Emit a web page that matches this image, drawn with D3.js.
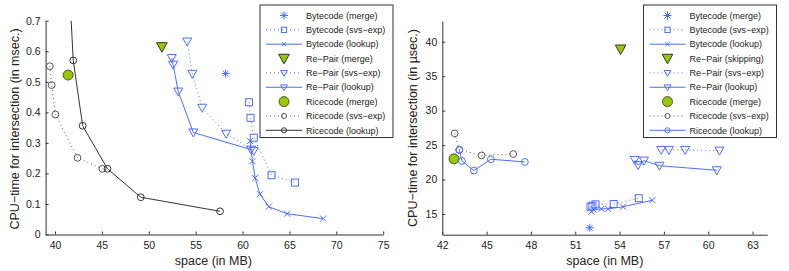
<!DOCTYPE html>
<html>
<head>
<meta charset="utf-8">
<script src="https://cdn.jsdelivr.net/npm/d3@7"></script>
<style>
  body { margin: 0; background: #fff; }
  svg { display: block; font-family: "Liberation Sans", Arial, sans-serif; }
  .tick text { font-size: 10.5px; fill: #222; }
  .domain, .tick line { stroke: #333; }
</style>
</head>
<body>
<div id="chart"></div>
<script>
// ---- data ----
// left panel: space (MB) vs time (msec.)
const leftXTicks = [40, 45, 50, 55, 60, 65, 70, 75];
const leftYTicks = [0, 0.1, 0.2, 0.3, 0.4, 0.5, 0.6, 0.7];
const leftBytecodeMerge = [[58.2, 0.527]];
const leftBytecodeSvs = [[60.7, 0.433], [60.85, 0.382], [61.2, 0.317], [63.1, 0.194], [65.6, 0.170]];
const leftBytecodeLookup = [[60.8, 0.306], [61.05, 0.240], [61.35, 0.185], [61.85, 0.132], [62.8, 0.091], [64.75, 0.068], [68.6, 0.052]];
const leftRepairMerge = [[51.4, 0.614]];
const leftRepairSvs = [[54.1, 0.632], [54.65, 0.526], [55.7, 0.415], [58.25, 0.330], [61.2, 0.274]];
const leftRepairLookup = [[52.45, 0.578], [52.6, 0.556], [53.15, 0.468], [54.75, 0.334], [60.9, 0.278]];
const leftRiceMerge = [[41.4, 0.522]];
const leftRiceSvs = [[39.45, 0.551], [39.65, 0.489], [40.05, 0.393], [42.4, 0.251], [45.05, 0.215]];
const leftRiceLookup = [[41.3, 0.95], [41.95, 0.570], [42.95, 0.356], [45.6, 0.215], [49.15, 0.122], [57.6, 0.076]];

// right panel: space (MB) vs time (µsec.)
const rightXTicks = [42, 45, 48, 51, 54, 57, 60, 63];
const rightYTicks = [15, 20, 25, 30, 35, 40];
const rightBytecodeMerge = [[51.98, 13.0]];
const rightBytecodeSvs = [[52.03, 16.05], [52.16, 16.2], [52.37, 16.4], [53.6, 16.45], [55.3, 17.3]];
const rightBytecodeLookup = [[52.09, 15.35], [52.25, 15.6], [52.77, 15.75], [53.22, 15.75], [54.23, 16.05], [56.22, 17.0]];
const rightRepairSkipping = [[54.07, 38.9]];
const rightRepairSvs = [[56.82, 24.3], [57.34, 24.3], [58.44, 24.3], [60.76, 24.2]];
const rightRepairLookup = [[55.02, 22.85], [55.25, 22.1], [55.65, 22.75], [56.7, 22.0], [60.58, 21.35]];
const rightRiceMerge = [[42.79, 23.0]];
const rightRiceSvs = [[42.84, 26.7], [43.15, 24.3], [44.66, 23.5], [46.8, 23.7]];
const rightRiceLookup = [[43.15, 24.3], [43.33, 22.7], [44.14, 21.3], [45.29, 22.95], [47.59, 22.55]];

const leftLabels = ["Bytecode (merge)", "Bytecode (svs\u2212exp)", "Bytecode (lookup)",
  "Re\u2212Pair (merge)", "Re\u2212Pair (svs\u2212exp)", "Re\u2212Pair (lookup)",
  "Ricecode (merge)", "Ricecode (svs\u2212exp)", "Ricecode (lookup)"];
const rightLabels = ["Bytecode (merge)", "Bytecode (svs\u2212exp)", "Bytecode (lookup)",
  "Re\u2212Pair (skipping)", "Re\u2212Pair (svs\u2212exp)", "Re\u2212Pair (lookup)",
  "Ricecode (merge)", "Ricecode (svs\u2212exp)", "Ricecode (lookup)"];

// ---- styles ----
const blue = "#4d6dff";
const green = "#99c800";
const dark = "#333";
const grey = "#555";

// line: null | "solid" | "dot"
const leftSeries = [
  { data: leftBytecodeMerge, marker: "star", color: blue, line: null },
  { data: leftBytecodeSvs, marker: "square", color: blue, line: "dot" },
  { data: leftBytecodeLookup, marker: "x", color: blue, line: "solid" },
  { data: leftRepairMerge, marker: "tri-fill", color: dark, line: null },
  { data: leftRepairSvs, marker: "tri", color: blue, line: "dot" },
  { data: leftRepairLookup, marker: "tri", color: blue, line: "solid" },
  { data: leftRiceMerge, marker: "circle-fill", color: dark, line: null },
  { data: leftRiceSvs, marker: "circle", color: grey, line: "dot" },
  { data: leftRiceLookup, marker: "circle", color: dark, line: "solid" }
];
const rightSeries = [
  { data: rightBytecodeMerge, marker: "star", color: blue, line: null },
  { data: rightBytecodeSvs, marker: "square", color: blue, line: "dot" },
  { data: rightBytecodeLookup, marker: "x", color: blue, line: "solid" },
  { data: rightRepairSkipping, marker: "tri-fill", color: dark, line: null },
  { data: rightRepairSvs, marker: "tri", color: blue, line: "dot" },
  { data: rightRepairLookup, marker: "tri", color: blue, line: "solid" },
  { data: rightRiceMerge, marker: "circle-fill", color: dark, line: null },
  { data: rightRiceSvs, marker: "circle", color: grey, line: "dot" },
  { data: rightRiceLookup, marker: "circle", color: blue, line: "solid" }
];

const svg = d3.select("#chart").append("svg")
  .attr("width", 789)
  .attr("height", 271);

// k scales the open markers (smaller inside the legend)
function marker(g, type, x, y, color, k) {
  if (type === "circle") {
    g.append("circle").attr("cx", x).attr("cy", y).attr("r", 3.4 * k)
      .attr("fill", "none").attr("stroke", color).attr("stroke-width", 1);
  } else if (type === "circle-fill") {
    g.append("circle").attr("cx", x).attr("cy", y).attr("r", 5)
      .attr("fill", green).attr("stroke", color).attr("stroke-width", 0.8);
  } else if (type === "square") {
    const s = 3.5 * k;
    g.append("rect").attr("x", x - s).attr("y", y - s).attr("width", 2 * s).attr("height", 2 * s)
      .attr("fill", "none").attr("stroke", color).attr("stroke-width", 1);
  } else if (type === "x") {
    const s = 3 * k;
    g.append("path").attr("d", `M${x - s},${y - s}L${x + s},${y + s}M${x - s},${y + s}L${x + s},${y - s}`)
      .attr("stroke", color).attr("stroke-width", 1);
  } else if (type === "star") {
    const s = 4, d = 2.9;
    g.append("path")
      .attr("d", `M${x - s},${y}L${x + s},${y}M${x},${y - s}L${x},${y + s}M${x - d},${y - d}L${x + d},${y + d}M${x - d},${y + d}L${x + d},${y - d}`)
      .attr("stroke", color).attr("stroke-width", 1);
  } else if (type === "tri") {
    const w = 4.5 * k, h = 4.5 * k;
    g.append("path").attr("d", `M${x - w},${y - h + 1}L${x + w},${y - h + 1}L${x},${y + h}Z`)
      .attr("fill", "none").attr("stroke", color).attr("stroke-width", 1);
  } else if (type === "tri-fill") {
    const w = 5.3, h = 5.3;
    g.append("path").attr("d", `M${x - w},${y - h + 1}L${x + w},${y - h + 1}L${x},${y + h}Z`)
      .attr("fill", green).attr("stroke", color).attr("stroke-width", 1);
  }
}

function panel(opts) {
  const x = d3.scaleLinear().domain(opts.xDomain).range(opts.xRange);
  const y = d3.scaleLinear().domain(opts.yDomain).range(opts.yRange);
  const g = svg.append("g");

  const clipId = "clip-" + opts.id;
  svg.append("clipPath").attr("id", clipId).append("rect")
    .attr("x", opts.xRange[0]).attr("y", opts.yRange[1])
    .attr("width", opts.xRange[1] - opts.xRange[0])
    .attr("height", opts.yRange[0] - opts.yRange[1]);

  g.append("g")
    .attr("transform", "translate(0," + opts.yRange[0] + ")")
    .call(d3.axisBottom(x).tickValues(opts.xTicks).tickFormat(d3.format("d"))
      .tickSizeInner(-3).tickSizeOuter(0).tickPadding(7));
  g.append("g")
    .attr("transform", "translate(" + opts.xRange[0] + ",0)")
    .call(d3.axisLeft(y).tickValues(opts.yTicks).tickFormat(opts.yFormat)
      .tickSizeInner(-3).tickSizeOuter(0).tickPadding(5));

  // axis titles
  g.append("text")
    .attr("x", (opts.xRange[0] + opts.xRange[1]) / 2 + opts.xLabelShift)
    .attr("y", 265)
    .attr("text-anchor", "middle")
    .attr("font-size", 12.5)
    .attr("fill", "#222")
    .text("space (in MB)");
  g.append("text")
    .attr("transform", `translate(${opts.yLabelX},${opts.yLabelY}) rotate(-90)`)
    .attr("text-anchor", "middle")
    .attr("font-size", 12.5)
    .attr("fill", "#222")
    .text(opts.yLabel);

  const line = d3.line().x(d => x(d[0])).y(d => y(d[1]));
  const plot = g.append("g").attr("clip-path", `url(#${clipId})`);

  opts.series.forEach(s => {
    if (s.line) {
      plot.append("path").datum(s.data)
        .attr("d", line)
        .attr("fill", "none")
        .attr("stroke", s.color === dark && s.line === "dot" ? grey : s.color)
        .attr("stroke-width", 1)
        .attr("stroke-dasharray", s.line === "dot" ? "1,3" : null);
    }
  });
  opts.series.forEach(s => {
    s.data.forEach(d => {
      if (d[1] <= opts.yDomain[1]) marker(plot, s.marker, x(d[0]), y(d[1]), s.color, 1);
    });
  });

  // legend
  const L = opts.legend;
  const lg = g.append("g");
  lg.append("rect")
    .attr("x", L.x).attr("y", L.y).attr("width", L.w).attr("height", L.h)
    .attr("fill", "#fff").attr("stroke", "#333").attr("stroke-width", 1);
  opts.series.forEach((s, i) => {
    const cy = L.y + 10.5 + i * 14.35;
    const mx = L.x + 24;
    if (s.line) {
      lg.append("line")
        .attr("x1", L.x + 6).attr("x2", L.x + 42)
        .attr("y1", cy).attr("y2", cy)
        .attr("stroke", s.color === dark && s.line === "dot" ? grey : s.color)
        .attr("stroke-width", 1)
        .attr("stroke-dasharray", s.line === "dot" ? "1,3" : null);
    }
    marker(lg, s.marker, mx, cy, s.color, 0.75);
    lg.append("text")
      .attr("x", L.x + 46).attr("y", cy + 3.2)
      .attr("font-size", 9)
      .attr("fill", "#222")
      .text(opts.labels[i]);
  });
}

panel({
  id: "left",
  xDomain: [39, 75], xRange: [45.6, 383.2],
  yDomain: [0, 0.7], yRange: [234.5, 20.7],
  xTicks: leftXTicks, yTicks: leftYTicks,
  yFormat: d => d === 0 ? "0" : d3.format(".1f")(d),
  yLabel: "CPU\u2212time for intersection (in msec.)",
  yLabelX: 19, yLabelY: 129,
  xLabelShift: -1,
  series: leftSeries, labels: leftLabels,
  legend: { x: 260, y: 5, w: 133, h: 132.5 }
});

panel({
  id: "right",
  xDomain: [42, 64], xRange: [442.3, 767.3],
  yDomain: [12, 43], yRange: [234.7, 21],
  xTicks: rightXTicks, yTicks: rightYTicks,
  yFormat: d3.format("d"),
  yLabel: "CPU\u2212time for intersection (in \u00b5sec.)",
  yLabelX: 417, yLabelY: 128,
  xLabelShift: 0,
  series: rightSeries, labels: rightLabels,
  legend: { x: 643.5, y: 5, w: 133, h: 132.5 }
});
</script>
</body>
</html>
